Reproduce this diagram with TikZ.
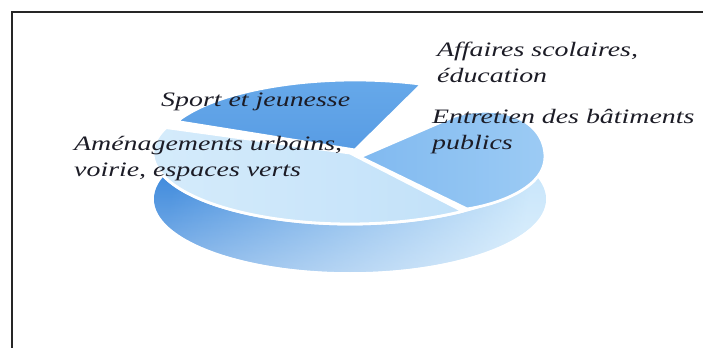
\documentclass[tikz,border=0pt]{standalone}
\usepackage{fontspec}
\setmainfont{Liberation Serif}
\newfontfamily\labelfont{Liberation Serif}[FakeStretch=1.36]
\usetikzlibrary{fadings}
\definecolor{sportblue}{RGB}{104,170,234}
\definecolor{sportdeep}{RGB}{88,156,228}
\definecolor{amenlight}{RGB}{214,236,251}
\definecolor{amenmid}{RGB}{194,225,249}
\definecolor{entblue}{RGB}{128,185,240}
\definecolor{entlight}{RGB}{156,203,244}
\definecolor{basedark}{RGB}{26,116,214}
\definecolor{baselight}{RGB}{190,225,250}
\definecolor{inktext}{RGB}{28,28,38}
\begin{document}
\begin{tikzpicture}[x=1pt,y=1pt,
  lbl/.style={font=\labelfont\itshape\fontsize{20.5}{26}\selectfont, align=left,
              anchor=base west, inner sep=0pt, text=inktext},
  slice/.style={draw=white, line width=2.8pt, line join=round},
  frame/.style={line width=1.7pt, draw=black!85}]
\useasboundingbox (0,0) rectangle (703,348);
% frame (top and left only)
\coordinate (ftr) at (703,336);
\coordinate (ftl) at (12,336);
\coordinate (fbl) at (12,0);
\draw[frame] (ftr) -- (ftl) -- (fbl);
% base disk
\shade[left color=basedark, right color=baselight, shading angle=80]
  (350,149) ellipse [x radius=196, y radius=73];
\fill[white, path fading=north, fill opacity=0.5]
  (350,149) ellipse [x radius=196, y radius=73];
% white top surface (gaps between slices)
\coordinate (amenc) at (350,195);
\filldraw[slice, fill=white] (amenc) ellipse [x radius=197, y radius=71];
% Entretien slice
\path[slice, left color=entblue, right color=entlight]
  (360,191) -- (455,232) .. controls (500,246) and (545,228) .. (545,191)
  .. controls (545,163) and (505,145) .. (467,139) -- cycle;
% Amenagements slice
\path[slice, left color=amenlight, right color=amenmid]
  (amenc) -- ++(159:197 and 71)
  arc[start angle=159, end angle=305, x radius=197, y radius=71] -- cycle;
% Sport slice
\coordinate (sportc) at (355,198);
\path[slice, top color=sportblue, bottom color=sportdeep]
  (sportc) -- ++(156:195 and 70)
  arc[start angle=156, end angle=70, x radius=195, y radius=70] -- cycle;
% labels
\node[lbl] (sport) at (161,241) {Sport et jeunesse};
\node[lbl] (affaires) at (437,265) {Affaires scolaires,\\éducation};
\node[lbl] (entretien) at (432,198) {Entretien des bâtiments\\publics};
\node[lbl] (amen) at (74,171) {Aménagements urbains,\\voirie, espaces verts};
\end{tikzpicture}
\end{document}
